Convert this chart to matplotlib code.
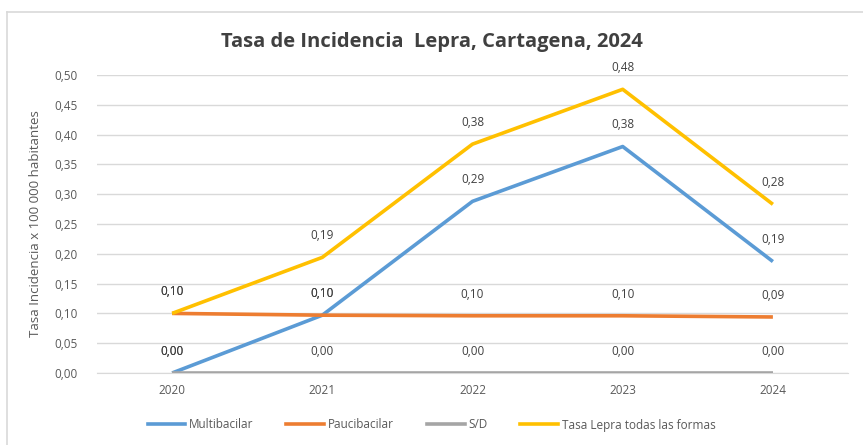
import matplotlib
matplotlib.use("Agg")
import matplotlib.pyplot as plt
from matplotlib.lines import Line2D

years = ["2020", "2021", "2022", "2023", "2024"]
multibacilar = [0.000, 0.097, 0.288, 0.380, 0.187]
paucibacilar = [0.100, 0.097, 0.096, 0.096, 0.094]
sin_dato = [0.000, 0.000, 0.000, 0.000, 0.000]
total = [0.100, 0.194, 0.384, 0.476, 0.283]

series = [
    ("Multibacilar", multibacilar, "#5B9BD5"),
    ("Paucibacilar", paucibacilar, "#ED7D31"),
    ("S/D", sin_dato, "#A5A5A5"),
    ("Tasa Lepra todas las formas", total, "#FFC000"),
]

plt.rcParams['font.family'] = ['Open Sans', 'DejaVu Sans']
txt = "#595959"

fig = plt.figure(figsize=(8.63, 4.45), dpi=100)
ax = fig.add_axes([97/863, 1-373/445, 751/863, (373-75)/445])

x = list(range(len(years)))
for name, vals, col in series:
    ax.plot(x, vals, color=col, lw=2.6, label=name, solid_capstyle='butt', zorder=3)

for name, vals, col in series:
    for xi, v in zip(x, vals):
        ax.annotate(f"{v:.2f}".replace(".", ","), (xi, v), xytext=(0, 11),
                    textcoords="offset points", ha="center", va="bottom",
                    fontsize=8.5, color="#404040", zorder=4)

ax.set_xlim(-0.5, 4.5)
ax.set_ylim(0, 0.5)
yt = [i * 0.05 for i in range(11)]
ax.set_yticks(yt)
ax.set_yticklabels([f"{v:.2f}".replace(".", ",") for v in yt], fontsize=8.5, color=txt)
ax.set_xticks(x)
ax.set_xticklabels(years, fontsize=8.5, color=txt)
ax.tick_params(length=0, pad=8)
ax.tick_params(axis='y', pad=14)
ax.grid(axis='y', color="#D9D9D9", lw=1)
ax.set_axisbelow(True)
for s in ax.spines.values():
    s.set_visible(False)
ax.spines['bottom'].set_visible(True)
ax.spines['bottom'].set_color("#D9D9D9")

ax.set_ylabel("Tasa Incidencia x 100 000 habitantes", fontsize=9.5, color=txt, labelpad=4)
ax.yaxis.set_label_coords(-55/751, 0.5)

fig.text(0.5, 1-42/445, "Tasa de Incidencia  Lepra, Cartagena, 2024", ha="center", va="center",
         fontsize=14.5, fontweight="bold", color="#404040")

handles = [Line2D([0], [0], color=c, lw=2.6) for _, _, c in series]
fig.legend(handles, [n for n, _, _ in series], loc="center", bbox_to_anchor=(0.5, 1-425/445),
           ncol=4, frameon=False, fontsize=8.5, labelcolor=txt, handlelength=3.2,
           handletextpad=0.3, columnspacing=2.8)

# chart border (left and top visible)
fig.add_artist(Line2D([7/863, 7/863], [0, 1-12/445], color="#D9D9D9", lw=1.2, transform=fig.transFigure))
fig.add_artist(Line2D([7/863, 1], [1-12/445, 1-12/445], color="#D9D9D9", lw=1.2, transform=fig.transFigure))

fig.savefig("out.png", dpi=100)
